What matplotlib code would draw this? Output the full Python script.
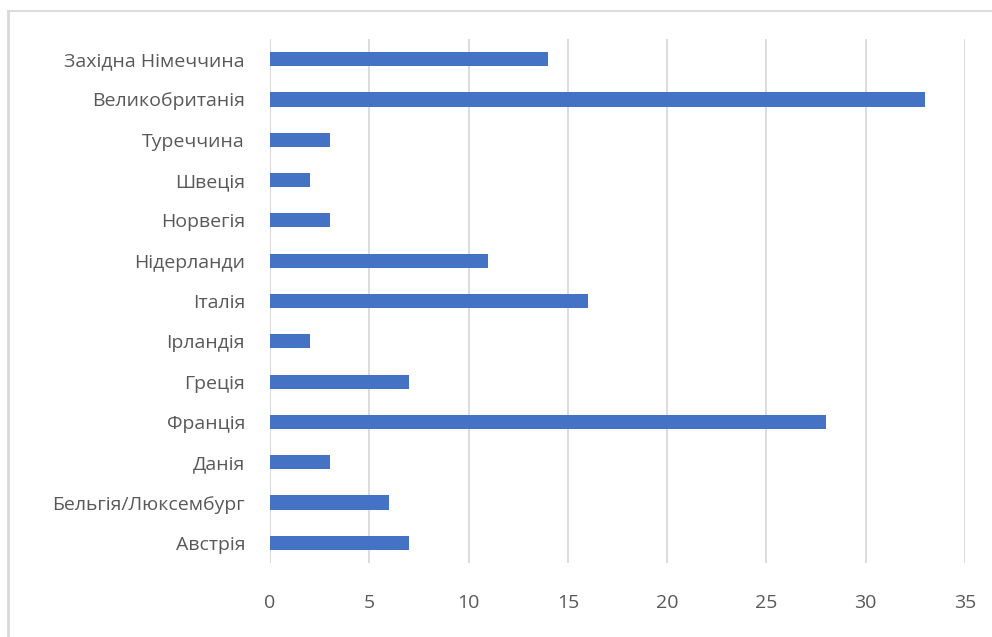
import matplotlib.pyplot as plt
from matplotlib.lines import Line2D

countries = ['Австрія', 'Бельгія/Люксембург', 'Данія', 'Франція', 'Греція',
             'Ірландія', 'Італія', 'Нідерланди', 'Норвегія', 'Швеція',
             'Туреччина', 'Великобританія', 'Західна Німеччина']
values = [7, 6, 3, 28, 7, 2, 16, 11, 3, 2, 3, 33, 14]
xticks = [0, 5, 10, 15, 20, 25, 30, 35]

plt.rcParams['font.family'] = ['Open Sans', 'DejaVu Sans']

fig = plt.figure(figsize=(9.92, 6.37), dpi=100)
ax = fig.add_axes([270 / 992, 1 - 563 / 637, 695 / 992, 524 / 637])

ax.barh(range(len(countries)), values, height=0.35, color='#4472C4', zorder=3)

ax.set_xlim(0, 35)
ax.set_ylim(-0.5, len(countries) - 0.5)
ax.set_xticks(xticks)
ax.set_yticks(range(len(countries)))
ax.set_yticklabels(countries)
ax.grid(axis='x', color='#D9D9D9', linewidth=1.3, zorder=0)
ax.tick_params(axis='both', length=0, labelsize=14, colors='#595959')
ax.tick_params(axis='x', pad=22)
ax.tick_params(axis='y', pad=18)
for s in ax.spines.values():
    s.set_visible(False)
ax.axvline(0, color='#D9D9D9', linewidth=1.3, zorder=1)

# outer chart frame (partly cut off in the reference)
fig.add_artist(Line2D([8 / 992, 8 / 992], [0, 1 - 11 / 637], transform=fig.transFigure,
                      color='#D9D9D9', linewidth=2))
fig.add_artist(Line2D([8 / 992, 1], [1 - 11 / 637, 1 - 11 / 637], transform=fig.transFigure,
                      color='#D9D9D9', linewidth=1.3))

fig.savefig('out.png', dpi=100)
